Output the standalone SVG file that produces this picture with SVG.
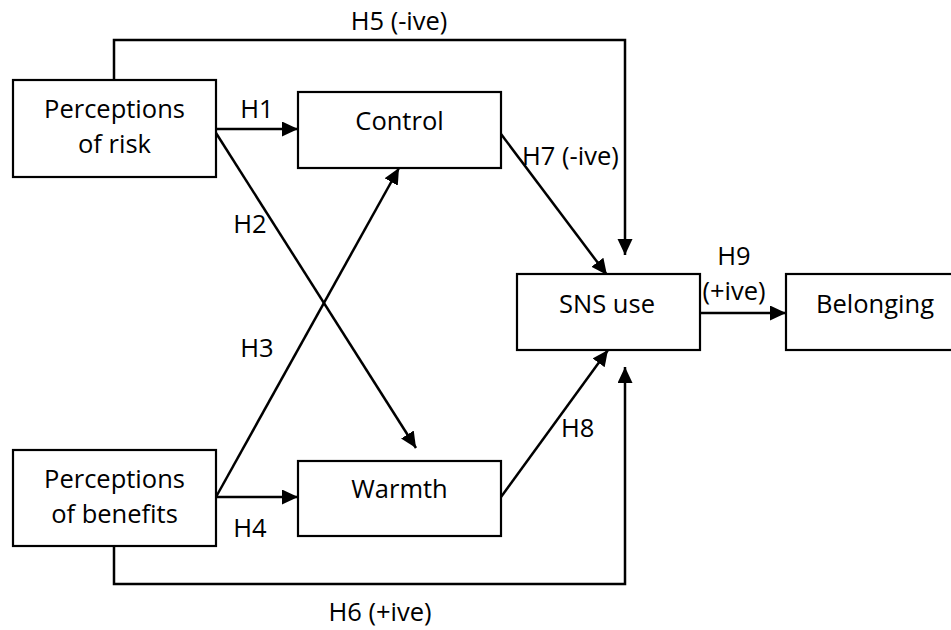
<svg xmlns="http://www.w3.org/2000/svg" width="951" height="630" viewBox="0 0 951 630">
<style>
  .box { fill: #ffffff; stroke: #000000; stroke-width: 2.2; }
  .lbl { font-family: "Open Sans", "Liberation Sans", sans-serif; font-size: 25.5px; fill: #000000; }
  .mid { text-anchor: middle; }
  .edge { fill: none; stroke: #000000; stroke-width: 2.5; }
</style>
<defs>
  <marker id="arr" markerUnits="userSpaceOnUse" markerWidth="17" markerHeight="16" refX="16" refY="7.5" orient="auto">
    <path d="M0,0 L16,7.5 L0,15 z" fill="#000000"/>
  </marker>
</defs>
<rect x="0" y="0" width="951" height="630" fill="#ffffff"/>
<g id="connectors">
  <path class="edge" d="M114,80 V40 H625 V255" marker-end="url(#arr)"/>
  <path class="edge" d="M114,546 V584 H625 V367" marker-end="url(#arr)"/>
  <path class="edge" d="M216,129 H298" marker-end="url(#arr)"/>
  <path class="edge" d="M216,133 L416,448" marker-end="url(#arr)"/>
  <path class="edge" d="M216,497 L399,168" marker-end="url(#arr)"/>
  <path class="edge" d="M216,497 H298" marker-end="url(#arr)"/>
  <path class="edge" d="M501,134 L607,275" marker-end="url(#arr)"/>
  <path class="edge" d="M501,497 L608,350" marker-end="url(#arr)"/>
  <path class="edge" d="M700,313 H786" marker-end="url(#arr)"/>
  <text class="lbl mid" x="399" y="30">H5 (-ive)</text>
  <text class="lbl mid" x="257" y="118">H1</text>
  <text class="lbl mid" x="250" y="233">H2</text>
  <text class="lbl mid" x="257" y="357">H3</text>
  <text class="lbl mid" x="250" y="537">H4</text>
  <text class="lbl mid" x="380" y="621">H6 (+ive)</text>
  <text class="lbl" x="522" y="165">H7 (-ive)</text>
  <text class="lbl" x="561" y="437">H8</text>
  <text class="lbl mid" x="734" y="265">H9</text>
  <text class="lbl mid" x="734" y="300">(+ive)</text>
</g>
<g id="risk">
  <rect class="box" x="13" y="80" width="203" height="97"/>
  <text class="lbl mid" x="114.5" y="118">Perceptions</text>
  <text class="lbl mid" x="114.5" y="153">of risk</text>
</g>
<g id="benefits">
  <rect class="box" x="13" y="450" width="203" height="96"/>
  <text class="lbl mid" x="114.5" y="488">Perceptions</text>
  <text class="lbl mid" x="114.5" y="523">of benefits</text>
</g>
<g id="control">
  <rect class="box" x="298" y="92" width="203" height="76"/>
  <text class="lbl mid" x="399.5" y="130">Control</text>
</g>
<g id="warmth">
  <rect class="box" x="298" y="461" width="203" height="75"/>
  <text class="lbl mid" x="399.5" y="498">Warmth</text>
</g>
<g id="sns">
  <rect class="box" x="517" y="274" width="183" height="76"/>
  <text class="lbl mid" x="607" y="313">SNS use</text>
</g>
<g id="belonging">
  <rect class="box" x="786" y="274" width="175" height="76"/>
  <text class="lbl mid" x="875" y="313">Belonging</text>
</g>
</svg>
